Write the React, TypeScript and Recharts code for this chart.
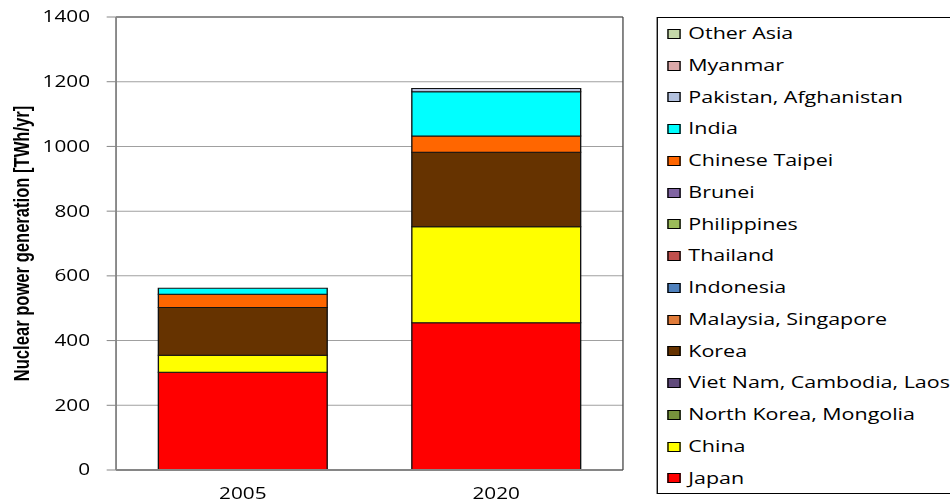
import React from 'react';
import { BarChart, Bar, XAxis, YAxis, CartesianGrid, Legend, ReferenceLine } from 'recharts';

// Nuclear power generation by region, TWh/yr
const years = ['2005', '2020'];
const japan = [302, 455];
const china = [53, 297];
const northKoreaMongolia = [0, 0];
const vietNamCambodiaLaos = [0, 0];
const korea = [147, 230];
const malaysiaSingapore = [0, 0];
const indonesia = [0, 0];
const thailand = [0, 0];
const philippines = [0, 0];
const brunei = [0, 0];
const chineseTaipei = [41, 50];
const india = [19, 137];
const pakistanAfghanistan = [0, 10];
const myanmar = [0, 0];
const otherAsia = [0, 0];

const yTicks = [0, 200, 400, 600, 800, 1000, 1200, 1400];

// Stacking order, bottom to top
const series = [
  { key: 'japan', name: 'Japan', values: japan, color: '#FF0000' },
  { key: 'china', name: 'China', values: china, color: '#FFFF00' },
  { key: 'nkm', name: 'North Korea, Mongolia', values: northKoreaMongolia, color: '#77933C' },
  { key: 'vcl', name: 'Viet Nam, Cambodia, Laos', values: vietNamCambodiaLaos, color: '#604A7B' },
  { key: 'korea', name: 'Korea', values: korea, color: '#663300' },
  { key: 'ms', name: 'Malaysia, Singapore', values: malaysiaSingapore, color: '#E07B39' },
  { key: 'indonesia', name: 'Indonesia', values: indonesia, color: '#4F81BD' },
  { key: 'thailand', name: 'Thailand', values: thailand, color: '#C0504D' },
  { key: 'philippines', name: 'Philippines', values: philippines, color: '#9BBB59' },
  { key: 'brunei', name: 'Brunei', values: brunei, color: '#8064A2' },
  { key: 'taipei', name: 'Chinese Taipei', values: chineseTaipei, color: '#FF6600' },
  { key: 'india', name: 'India', values: india, color: '#00FFFF' },
  { key: 'pak', name: 'Pakistan, Afghanistan', values: pakistanAfghanistan, color: '#B3C1DE' },
  { key: 'myanmar', name: 'Myanmar', values: myanmar, color: '#DBA8A8' },
  { key: 'other', name: 'Other Asia', values: otherAsia, color: '#C4D7A8' },
];

const rows = years.map((year, i) => {
  const row: Record<string, string | number> = { year };
  series.forEach((s) => {
    row[s.key] = s.values[i];
  });
  return row;
});

// The figure is laid out at a narrower width and stretched horizontally.
const STRETCH = 1.34;
const FULL_W = 950;
const FULL_H = 503;
const W = FULL_W / STRETCH;

const FONT = '"Open Sans", "Noto Sans", sans-serif';

const AxisTitle = () => {
  const cx = 21.9;
  const cy = 243.5;
  return (
    <text
      x={cx}
      y={cy}
      transform={`rotate(-90 ${cx} ${cy})`}
      textAnchor="middle"
      fontFamily='"Liberation Sans", Arial, sans-serif'
      fontWeight="bold"
      fontSize={16.6}
      fill="#000"
    >
      Nuclear power generation [TWh/yr]
    </text>
  );
};

const ROW_H = 31.75;

// Legend lists the series top-down in reverse stacking order
const renderLegend = () => {
  const items = [...series].reverse();
  return (
    <div
      style={{
        boxSizing: 'border-box',
        width: '100%',
        height: '100%',
        border: '1px solid #000',
        background: '#fff',
      }}
    >
      {items.map((it) => (
        <div
          key={it.key}
          style={{ display: 'flex', alignItems: 'center', height: ROW_H, whiteSpace: 'nowrap' }}
        >
          <span
            style={{
              width: 10,
              height: 10,
              boxSizing: 'border-box',
              border: '1px solid #000',
              background: it.color,
              marginLeft: 7.4,
              marginRight: 5.7,
              flex: 'none',
            }}
          />
          <span style={{ fontFamily: FONT, fontSize: 16, color: '#000', lineHeight: `${ROW_H}px` }}>
            {it.name}
          </span>
        </div>
      ))}
    </div>
  );
};

export default function App() {
  return (
    <div
      style={{
        position: 'absolute',
        left: 0,
        top: 0,
        width: FULL_W,
        height: FULL_H,
        overflow: 'hidden',
        background: '#fff',
      }}
    >
      <div style={{ width: W, height: FULL_H, transform: `scaleX(${STRETCH})`, transformOrigin: '0 0' }}>
        <BarChart
          width={W}
          height={FULL_H}
          data={rows}
          margin={{ top: 17, right: W - 464.9 - 1, bottom: 0, left: 0 }}
          barCategoryGap="16.7%"
        >
          <CartesianGrid vertical={false} stroke="#a0a0a0" strokeWidth={1} />
          <XAxis
            dataKey="year"
            height={33}
            axisLine={{ stroke: '#868686', strokeWidth: 1.8 }}
            tickLine={false}
            tickSize={0}
            tickMargin={18}
            tick={{ fontFamily: FONT, fontSize: 15.5, fill: '#000' }}
          />
          <YAxis
            width={86.6}
            domain={[0, 1400]}
            ticks={yTicks}
            interval={0}
            axisLine={{ stroke: '#868686', strokeWidth: 1.4 }}
            tickLine={{ stroke: '#868686' }}
            tickSize={7}
            tickMargin={12.4}
            tick={{ fontFamily: FONT, fontSize: 15.5, fill: '#000' }}
            label={<AxisTitle />}
          />
          <YAxis
            yAxisId="frame"
            orientation="right"
            width={1}
            tick={false}
            tickLine={false}
            axisLine={{ stroke: '#4d4d4d', strokeWidth: 1 }}
          />
          <ReferenceLine y={1400} stroke="#4d4d4d" strokeWidth={1} />
          {series.map((s) => (
            <Bar
              key={s.key}
              dataKey={s.key}
              name={s.name}
              stackId="total"
              fill={s.color}
              stroke="#111"
              strokeWidth={1}
              isAnimationActive={false}
            />
          ))}
          <Legend
            layout="vertical"
            align="center"
            verticalAlign="middle"
            content={renderLegend}
            wrapperStyle={{ left: 489.6, top: 17, width: 260, height: 477, margin: 0 }}
          />
        </BarChart>
      </div>
    </div>
  );
}
